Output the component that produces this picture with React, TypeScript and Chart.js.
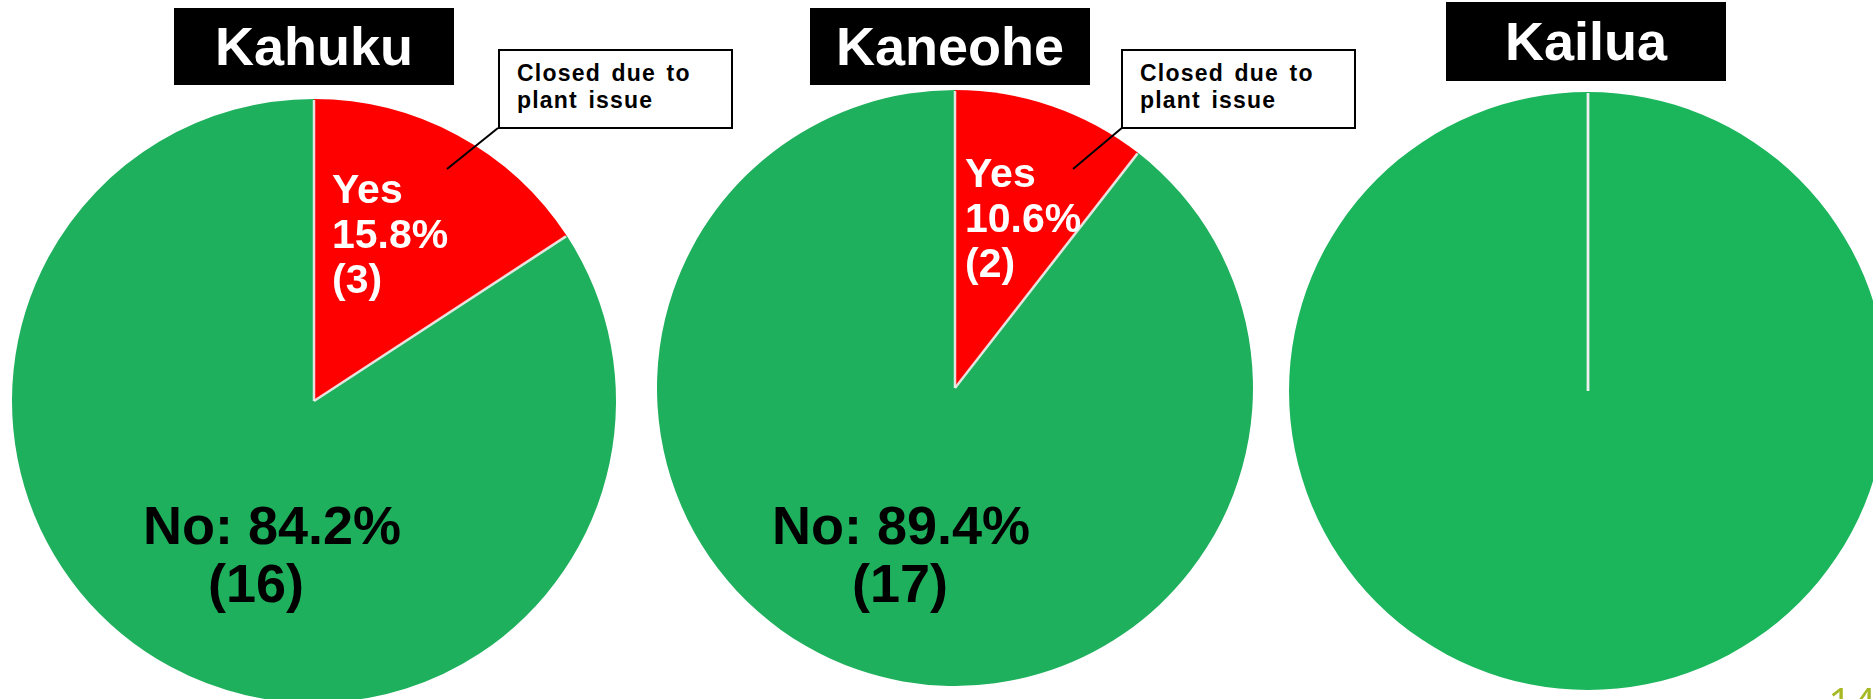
import React, { useEffect, useRef } from "react";
import { Chart, registerables } from "chart.js";

Chart.register(...registerables);

// ---- data ----
const sites = ["Kahuku", "Kaneohe", "Kailua"];
const categories = ["Yes", "No"];
const yesCounts = [3, 2, 0];
const noCounts = [16, 17, 19];
const yesPctLabels = ["15.8%", "10.6%", ""];
const noPctLabels = ["84.2%", "89.4%", ""];
const calloutText = ["Closed due to", "plant issue"];
const pageNumber = "14";

// ---- layout (positions / styles only) ----
const FONT = "'Liberation Sans', Arial, Helvetica, sans-serif";
const pies = [
  { cx: 314, cy: 401, r: 302, green: "#1EB05C" },
  { cx: 955, cy: 388, r: 298, green: "#1EB05C" },
  { cx: 1588, cy: 391, r: 299, green: "#1BB55C" },
];
const titleBoxes = [
  { left: 174, top: 8, width: 280, height: 77 },
  { left: 810, top: 8, width: 280, height: 77 },
  { left: 1446, top: 2, width: 280, height: 79 },
];
const callouts = [
  { left: 498, top: 49, width: 235, height: 80, x1: 498, y1: 128, x2: 447, y2: 169 },
  { left: 1121, top: 49, width: 235, height: 80, x1: 1123, y1: 127, x2: 1073, y2: 169 },
];
const yesLabelPos = [
  { left: 332, top: 167 },
  { left: 965, top: 151 },
];
const noLabelPos = [
  { left1: 143, left2: 208, top: 496 },
  { left1: 772, left2: 852, top: 496 },
];

// draws the light radial separators at each slice start, using the arcs' own geometry
const separatorPlugin = {
  id: "separators",
  afterDatasetsDraw(chart: any) {
    const meta = chart.getDatasetMeta(0);
    const ctx = chart.ctx;
    ctx.save();
    ctx.strokeStyle = "rgba(240,240,240,0.9)";
    ctx.lineWidth = 2.5;
    ctx.lineCap = "butt";
    meta.data.forEach((arc: any) => {
      const { x, y, startAngle, outerRadius } = arc.getProps(["x", "y", "startAngle", "outerRadius"], true);
      ctx.beginPath();
      ctx.moveTo(x, y);
      ctx.lineTo(x + Math.cos(startAngle) * (outerRadius - 1), y + Math.sin(startAngle) * (outerRadius - 1));
      ctx.stroke();
    });
    ctx.restore();
  },
};

function PieChart({ idx }: { idx: number }) {
  const ref = useRef<HTMLCanvasElement | null>(null);
  const p = pies[idx];
  const size = 2 * p.r;
  useEffect(() => {
    if (!ref.current) return;
    const chart = new Chart(ref.current, {
      type: "pie",
      data: {
        labels: categories,
        datasets: [
          {
            data: [yesCounts[idx], noCounts[idx]],
            backgroundColor: ["#FF0000", p.green],
            borderWidth: 0,
          },
        ],
      },
      options: {
        responsive: false,
        animation: false,
        devicePixelRatio: 1,
        layout: { padding: 0 },
        plugins: {
          legend: { display: false },
          tooltip: { enabled: false },
          title: { display: false },
        },
      },
      plugins: [separatorPlugin],
    });
    return () => chart.destroy();
  }, [idx]);
  return (
    <canvas
      ref={ref}
      width={size}
      height={size}
      style={{
        position: "absolute",
        left: p.cx - size / 2,
        top: p.cy - size / 2,
        width: size,
        height: size,
      }}
    />
  );
}

export default function App() {
  return (
    <div
      style={{
        position: "fixed",
        left: 0,
        top: 0,
        width: 1873,
        height: 699,
        overflow: "hidden",
        background: "#ffffff",
        fontFamily: FONT,
      }}
    >
      {sites.map((_, i) => (
        <PieChart key={"pie" + i} idx={i} />
      ))}

      {sites.map((s, i) => (
        <div
          key={"t" + i}
          style={{
            position: "absolute",
            left: titleBoxes[i].left,
            top: titleBoxes[i].top,
            width: titleBoxes[i].width,
            height: titleBoxes[i].height,
            background: "#000",
            color: "#fff",
            fontWeight: 700,
            fontSize: 54,
            lineHeight: titleBoxes[i].height + "px",
            textAlign: "center",
            zIndex: 2,
          }}
        >
          {s}
        </div>
      ))}

      {callouts.map((c, i) => (
        <div
          key={"c" + i}
          style={{
            position: "absolute",
            left: c.left,
            top: c.top,
            width: c.width,
            height: c.height,
            boxSizing: "border-box",
            border: "2px solid #000",
            background: "#fff",
            color: "#000",
            fontWeight: 700,
            fontSize: 23,
            lineHeight: "27px",
            letterSpacing: "1.2px",
            wordSpacing: "3px",
            padding: "9px 0 0 17px",
            zIndex: 3,
            whiteSpace: "nowrap",
          }}
        >
          <div>{calloutText[0]}</div>
          <div>{calloutText[1]}</div>
        </div>
      ))}

      <svg
        width={1873}
        height={699}
        style={{ position: "absolute", left: 0, top: 0, zIndex: 2, pointerEvents: "none" }}
      >
        {callouts.map((c, i) => (
          <line key={"l" + i} x1={c.x1} y1={c.y1} x2={c.x2} y2={c.y2} stroke="#000" strokeWidth={2} />
        ))}
      </svg>

      {yesLabelPos.map((pos, i) => (
        <div
          key={"y" + i}
          style={{
            position: "absolute",
            left: pos.left,
            top: pos.top,
            color: "#fff",
            fontWeight: 700,
            fontSize: 41,
            lineHeight: "45px",
            zIndex: 2,
            whiteSpace: "nowrap",
          }}
        >
          <div>{categories[0]}</div>
          <div>{yesPctLabels[i]}</div>
          <div>({yesCounts[i]})</div>
        </div>
      ))}

      {noLabelPos.map((pos, i) => (
        <React.Fragment key={"n" + i}>
          <div
            style={{
              position: "absolute",
              left: pos.left1,
              top: pos.top,
              color: "#000",
              fontWeight: 700,
              fontSize: 54,
              lineHeight: "58px",
              zIndex: 2,
              whiteSpace: "nowrap",
            }}
          >
            {categories[1]}: {noPctLabels[i]}
          </div>
          <div
            style={{
              position: "absolute",
              left: pos.left2,
              top: pos.top + 58,
              color: "#000",
              fontWeight: 700,
              fontSize: 54,
              lineHeight: "58px",
              zIndex: 2,
              whiteSpace: "nowrap",
            }}
          >
            ({noCounts[i]})
          </div>
        </React.Fragment>
      ))}

      <div
        style={{
          position: "absolute",
          left: 1828,
          top: 689,
          color: "#A6B823",
          fontFamily: "'Open Sans', sans-serif",
          fontSize: 42,
          lineHeight: "42px",
          zIndex: 2,
        }}
      >
        <div style={{ marginTop: -8 }}>{pageNumber}</div>
      </div>
    </div>
  );
}
